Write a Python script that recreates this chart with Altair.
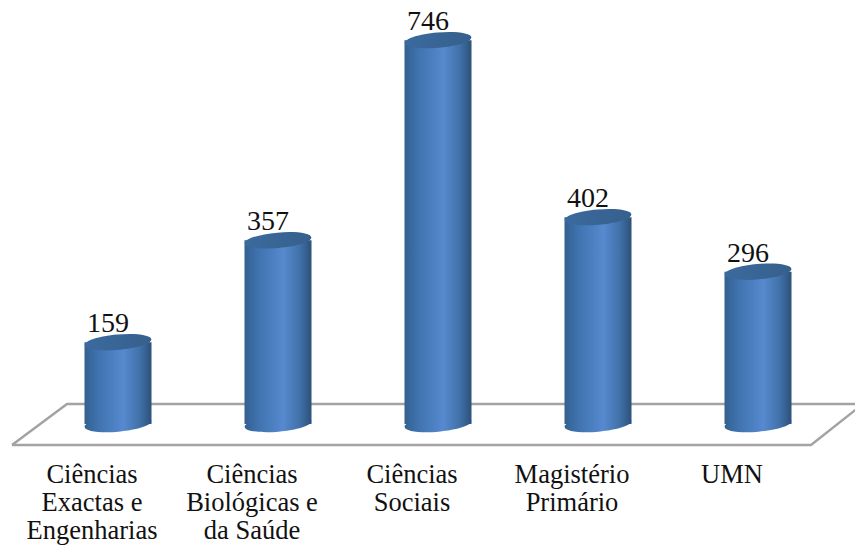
import math
import altair as alt
import pandas as pd

labels = ["Ciências\nExactas e\nEngenharias", "Ciências\nBiológicas e\nda Saúde",
          "Ciências\nSociais", "Magistério\nPrimário", "UMN"]
positions = [0, 1, 2, 3, 4]
values = [159, 357, 746, 402, 296]

floor_x = [-0.6625, -0.31875, 4.65625, 4.33125, -0.6625]
floor_y = [-40.8, 38.9, 38.9, -40.8, -40.8]
floor_order = [0, 1, 2, 3, 4]

label_level = [-114.7] * 5
zero_level = [0] * 5

df = pd.DataFrame({"x": positions, "v": values, "label": labels, "zero": zero_level, "lab_y": label_level})
floor = pd.DataFrame({"x": floor_x, "y": floor_y, "o": floor_order})

x_scale = alt.Scale(domain=[-0.6875, 4.60625], range=[0, 847], nice=False, zero=False, padding=0)
y_scale = alt.Scale(domain=[-235.2, 808.5], nice=False, zero=False)
X = alt.X("x:Q", scale=x_scale, axis=None)

body_grad = alt.Gradient(
    gradient="linear", x1=0, x2=1, y1=0, y2=0,
    stops=[
        alt.GradientStop(offset=0, color="#33608F"),
        alt.GradientStop(offset=0.2, color="#3F72AE"),
        alt.GradientStop(offset=0.58, color="#5689CE"),
        alt.GradientStop(offset=0.82, color="#4272AA"),
        alt.GradientStop(offset=1, color="#2C5179"),
    ],
)
top_grad = alt.Gradient(
    gradient="linear", x1=0, x2=1, y1=0, y2=0,
    stops=[
        alt.GradientStop(offset=0, color="#3B6A9E"),
        alt.GradientStop(offset=1, color="#36608C"),
    ],
)

ang = 5
c, s = math.cos(math.radians(ang)), math.sin(math.radians(ang))
ellipse = f"M{-c:.4f},{s:.4f} A1,0.23 {-ang} 1 1 {c:.4f},{-s:.4f} A1,0.23 {-ang} 1 1 {-c:.4f},{s:.4f} Z"
cyl_w = 67
ell_size = cyl_w ** 2

floor_layer = alt.Chart(floor).mark_line(color="#A3A3A3", strokeWidth=2.5, strokeJoin="miter").encode(
    x=X, y=alt.Y("y:Q", scale=y_scale, axis=None), order="o:Q")

bottom = alt.Chart(df).mark_point(shape=ellipse, size=ell_size, filled=True, fill=body_grad, opacity=1, strokeWidth=0).encode(
    x=X, y=alt.Y("zero:Q", scale=y_scale, axis=None))

body = alt.Chart(df).mark_bar(size=cyl_w, fill=body_grad).encode(
    x=X, y=alt.Y("v:Q", scale=y_scale, axis=None), y2="zero:Q")

top = alt.Chart(df).mark_point(shape=ellipse, size=ell_size, filled=True, fill=top_grad, opacity=1, strokeWidth=0).encode(
    x=X, y=alt.Y("v:Q", scale=y_scale, axis=None))

value_text = alt.Chart(df).mark_text(font="Liberation Serif", fontSize=28, color="#111111", dx=-10, dy=-10,
                                     baseline="alphabetic", align="center").encode(
    x=X, y=alt.Y("v:Q", scale=y_scale, axis=None), text="v:Q")

cat_text = alt.Chart(df).mark_text(font="Liberation Serif", fontSize=26.5, color="#111111", dx=-26, lineBreak="\n",
                                   lineHeight=28, baseline="alphabetic", align="center").encode(
    x=X, y=alt.Y("lab_y:Q", scale=y_scale, axis=None), text="label:N")

chart = alt.layer(floor_layer, bottom, body, top, value_text, cat_text).properties(
    width=847, height=537, padding=0, background="white",
    autosize=alt.AutoSizeParams(type="none")
).configure_view(stroke=None)

chart.save("out.html", embed_options={"renderer": "svg", "actions": False})
